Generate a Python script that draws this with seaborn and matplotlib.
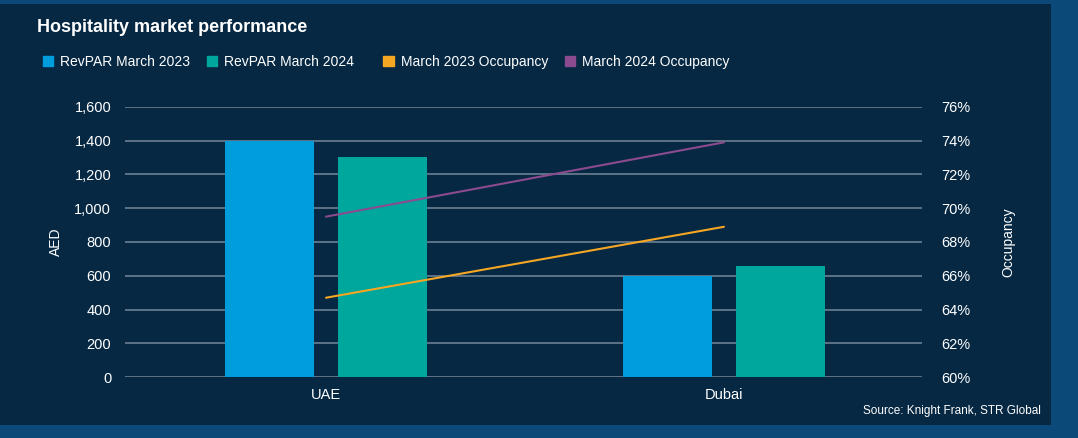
import pandas as pd
import matplotlib.pyplot as plt
import seaborn as sns
from matplotlib.patches import Patch, Rectangle
from matplotlib.ticker import FuncFormatter

markets = ["UAE", "Dubai"]
revpar_2023 = [1395, 600]
revpar_2024 = [1305, 655]
occ_2023 = [64.7, 68.9]
occ_2024 = [69.5, 73.9]

bar_labels = ["RevPAR March 2023", "RevPAR March 2024"]
line_labels = ["March 2023 Occupancy", "March 2024 Occupancy"]

BG = "#062843"
OUTER = "#0b4a78"
GRID = "#6b7f92"
BLUE = "#009ddc"
TEAL = "#00a79d"
ORANGE = "#f5a623"
PURPLE = "#8c4b8e"

bars = pd.DataFrame({
    "Market": markets * 2,
    "Series": [bar_labels[0]] * 2 + [bar_labels[1]] * 2,
    "RevPAR": revpar_2023 + revpar_2024,
})

sns.set_style("white")
plt.rcParams["font.family"] = ["Liberation Sans", "DejaVu Sans"]
plt.rcParams["text.color"] = "white"

fig = plt.figure(figsize=(10.78, 4.38), dpi=100)
fig.patch.set_facecolor(OUTER)
fig.patches.append(Rectangle((0, 0.03), 0.975, 0.962, transform=fig.transFigure,
                             facecolor=BG, edgecolor="none", zorder=-5))

ax = fig.add_axes([0.116, 0.139, 0.739, 0.617])
ax.set_facecolor("none")
sns.barplot(data=bars, x="Market", y="RevPAR", hue="Series", order=markets,
            palette=[BLUE, TEAL], width=0.565, gap=0.21, legend=False,
            saturation=1, linewidth=0, ax=ax, zorder=3)
ax.set_xlim(-0.505, 1.497)
ax.set_ylim(0, 1600)
ax.set_yticks(range(0, 1601, 200))
ax.yaxis.set_major_formatter(FuncFormatter(lambda v, p: f"{int(v):,}"))
ax.grid(axis="y", color=GRID, linewidth=1.2, zorder=0)
ax.set_axisbelow(True)
ax.set_xlabel("")
ax.set_ylabel("AED", color="white", fontsize=10, labelpad=8)
ax.tick_params(colors="white", labelsize=10.5, length=0)
ax.tick_params(axis="y", pad=10)
ax.tick_params(axis="x", pad=8)
for s in ax.spines.values():
    s.set_visible(False)

ax2 = ax.twinx()
x_pos = list(range(len(markets)))
sns.lineplot(x=x_pos, y=occ_2023, color=ORANGE, linewidth=1.5, ax=ax2)
sns.lineplot(x=x_pos, y=occ_2024, color=PURPLE, linewidth=1.5, ax=ax2)
ax2.set_ylim(60, 76)
ax2.set_yticks(range(60, 77, 2))
ax2.yaxis.set_major_formatter(FuncFormatter(lambda v, p: f"{int(v)}%"))
ax2.set_ylabel("Occupancy", color="white", fontsize=10, labelpad=22)
ax2.tick_params(colors="white", labelsize=10.5, length=0, pad=14)
for s in ax2.spines.values():
    s.set_visible(False)

fig.text(0.034, 0.938, "Hospitality market performance", fontsize=13,
         fontweight="bold", color="white", va="center")

fig.legend(handles=[Patch(color=BLUE), Patch(color=TEAL)], labels=bar_labels,
           loc="center left", bbox_to_anchor=(0.028, 0.858), ncol=2,
           frameon=False, fontsize=10, handlelength=0.75, handleheight=0.75,
           handletextpad=0.5, columnspacing=1.2, labelcolor="white")
fig.legend(handles=[Patch(color=ORANGE), Patch(color=PURPLE)], labels=line_labels,
           loc="center left", bbox_to_anchor=(0.344, 0.858), ncol=2,
           frameon=False, fontsize=10, handlelength=0.75, handleheight=0.75,
           handletextpad=0.5, columnspacing=1.2, labelcolor="white")

fig.text(0.966, 0.062, "Source: Knight Frank, STR Global", fontsize=8.5,
         color="white", ha="right", va="center")

fig.savefig("out.png", dpi=100, facecolor=fig.get_facecolor())
